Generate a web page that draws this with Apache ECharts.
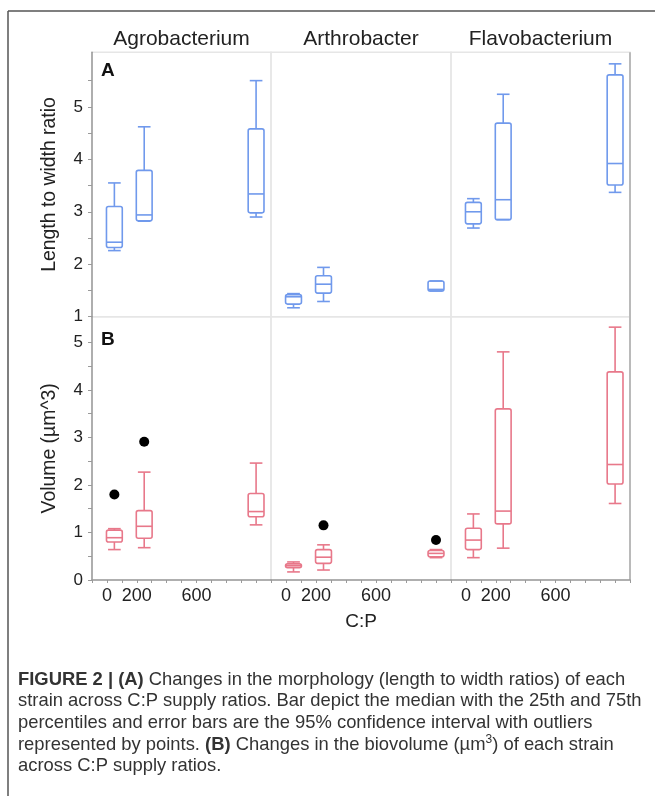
<!DOCTYPE html>
<html><head><meta charset="utf-8">
<script src="https://cdn.jsdelivr.net/npm/echarts@6/dist/echarts.min.js"></script>
<style>html,body{margin:0;padding:0;background:#fff}#c{width:655px;height:796px}</style>
</head><body><div id="c"></div>
<script>
// ---------------- data ----------------
const strains = ['Agrobacterium', 'Arthrobacter', 'Flavobacterium'];
const cpLevels = [50, 250, 1000];
const xTickLabels = [0, 200, 600];
const xTickMarks = [-100, 0, 100, 200, 300, 400, 500, 600, 700, 800, 900, 1000, 1100];
const ratioTickLabels = [1, 2, 3, 4, 5];
const ratioTickMarks = [1, 1.5, 2, 2.5, 3, 3.5, 4, 4.5, 5, 5.5];
const volumeTickLabels = [0, 1, 2, 3, 4, 5];
const volumeTickMarks = [0, 0.5, 1, 1.5, 2, 2.5, 3, 3.5, 4, 4.5, 5];

// [lower whisker, Q1, median, Q3, upper whisker] per C:P level
const ratioAgro   = [[2.26, 2.32, 2.42, 3.10, 3.55], [2.82, 2.83, 2.94, 3.79, 4.62], [2.90, 2.98, 3.34, 4.58, 5.50]];
const ratioArthro = [[1.17, 1.24, 1.38, 1.42, 1.44], [1.29, 1.45, 1.62, 1.78, 1.94], [1.49, 1.49, 1.52, 1.68, 1.68]];
const ratioFlavo  = [[2.69, 2.77, 3.00, 3.18, 3.25], [2.85, 2.85, 3.23, 4.69, 5.24], [3.37, 3.51, 3.92, 5.61, 5.82]];

const volAgro   = [[0.64, 0.80, 0.89, 1.05, 1.08], [0.68, 0.88, 1.13, 1.46, 2.27], [1.16, 1.33, 1.44, 1.82, 2.46]];
const volArthro = [[0.17, 0.26, 0.30, 0.34, 0.38], [0.21, 0.35, 0.48, 0.64, 0.74], [0.47, 0.49, 0.56, 0.62, 0.64]];
const volFlavo  = [[0.47, 0.64, 0.84, 1.09, 1.39], [0.67, 1.18, 1.45, 3.60, 4.80], [1.61, 2.02, 2.43, 4.38, 5.32]];

// outliers [C:P, volume]
const volOutAgro   = [[50, 1.80], [250, 2.91]];
const volOutArthro = [[250, 1.15], [1000, 0.84]];
const volOutFlavo  = [];

// ---------------- layout / style ----------------
const colLeft = [92, 271, 451];
const colWidth = [179, 180, 179];
const rowTop = [52.3, 316.7];
const rowHeight = [264.4, 263.3];
const xRange = [-100, 1100];
const ratioRange = [1, 6.04];
const volRange = [0, 5.54];
const BLUE = '#7099ec';
const RED = '#e8788a';
const BOX_W = 106;      // in C:P units
const CAP_RATIO = 0.8;
const FONT = '"Liberation Sans", Arial, Helvetica, sans-serif';

const ratioSets = [ratioAgro, ratioArthro, ratioFlavo];
const volSets = [volAgro, volArthro, volFlavo];
const outSets = [volOutAgro, volOutArthro, volOutFlavo];

function boxRender(color) {
  return function (params, api) {
    const x = api.value(0);
    const lo = api.coord([x, api.value(1)]);
    const q1 = api.coord([x, api.value(2)]);
    const md = api.coord([x, api.value(3)]);
    const q3 = api.coord([x, api.value(4)]);
    const hi = api.coord([x, api.value(5)]);
    const w = api.size([BOX_W, 0])[0];
    const cw = w * CAP_RATIO;
    const cx = lo[0];
    const st = { stroke: color, lineWidth: 1.6, fill: null };
    return {
      type: 'group',
      children: [
        { type: 'line', shape: { x1: cx, y1: hi[1], x2: cx, y2: q3[1] }, style: st },
        { type: 'line', shape: { x1: cx, y1: q1[1], x2: cx, y2: lo[1] }, style: st },
        { type: 'line', shape: { x1: cx - cw / 2, y1: hi[1], x2: cx + cw / 2, y2: hi[1] }, style: st },
        { type: 'line', shape: { x1: cx - cw / 2, y1: lo[1], x2: cx + cw / 2, y2: lo[1] }, style: st },
        { type: 'rect', shape: { x: cx - w / 2, y: q3[1], width: w, height: q1[1] - q3[1], r: 2 }, style: st },
        { type: 'line', shape: { x1: cx - w / 2, y1: md[1], x2: cx + w / 2, y2: md[1] }, style: st }
      ]
    };
  };
}

const grids = [], xAxes = [], yAxes = [], series = [];
for (let r = 0; r < 2; r++) {
  for (let c = 0; c < 3; c++) {
    const idx = r * 3 + c;
    grids.push({
      left: colLeft[c], top: rowTop[r], width: colWidth[c], height: rowHeight[r],
      show: true, borderColor: '#e6e6e6', borderWidth: 1.5, backgroundColor: 'transparent'
    });
    const bottomRow = r === 1;
    xAxes.push({
      gridIndex: idx, type: 'value', min: xRange[0], max: xRange[1], interval: 100,
      splitLine: { show: false },
      axisLine: { show: bottomRow, onZero: false, lineStyle: { color: '#9a9a9a', width: 1.5 } },
      axisTick: { show: bottomRow, length: 3, customValues: xTickMarks, lineStyle: { color: '#9a9a9a' } },
      axisLabel: { show: bottomRow, customValues: xTickLabels, fontSize: 18, color: '#222', margin: 7, fontFamily: FONT },
      name: (bottomRow && c === 1) ? 'C:P' : '',
      nameLocation: 'middle', nameGap: 32,
      nameTextStyle: { fontSize: 19, color: '#222', fontFamily: FONT }
    });
    const leftCol = c === 0;
    const top = r === 0;
    yAxes.push({
      gridIndex: idx, type: 'value',
      min: top ? ratioRange[0] : volRange[0], max: top ? ratioRange[1] : volRange[1],
      show: leftCol,
      splitLine: { show: false },
      axisLine: { show: true, onZero: false, lineStyle: { color: '#9a9a9a', width: 1.5 } },
      axisTick: { show: true, length: 4, customValues: top ? ratioTickMarks : volumeTickMarks, lineStyle: { color: '#9a9a9a' } },
      axisLabel: { customValues: top ? ratioTickLabels : volumeTickLabels, fontSize: 17, color: '#222', margin: 9, fontFamily: FONT },
      name: top ? 'Length to width ratio' : 'Volume (µm^3)',
      nameLocation: 'middle', nameGap: 33,
      nameTextStyle: { fontSize: 19.4, color: '#222', fontFamily: FONT }
    });
    const set = top ? ratioSets[c] : volSets[c];
    series.push({
      type: 'custom', xAxisIndex: idx, yAxisIndex: idx,
      renderItem: boxRender(top ? BLUE : RED),
      encode: { x: 0, y: [1, 2, 3, 4, 5] },
      data: cpLevels.map((cp, i) => [cp].concat(set[i])),
      silent: true
    });
    if (!top) {
      series.push({
        type: 'scatter', xAxisIndex: idx, yAxisIndex: idx,
        data: outSets[c], symbolSize: 10, itemStyle: { color: '#000', opacity: 1 }, silent: true
      });
    }
  }
}

const graphics = [
  { type: 'line', shape: { x1: 8, y1: 11, x2: 655, y2: 11 }, style: { stroke: '#555', lineWidth: 1.5 } },
  { type: 'line', shape: { x1: 8, y1: 11, x2: 8, y2: 796 }, style: { stroke: '#555', lineWidth: 1.5 } },
  { type: 'line', shape: { x1: 630, y1: rowTop[0], x2: 630, y2: rowTop[1] + rowHeight[1] }, style: { stroke: '#b5b5b5', lineWidth: 1.8 } },
  { type: 'text', x: 101, y: 71, style: { text: 'A', font: 'bold 19px ' + FONT, fill: '#111', textVerticalAlign: 'middle' } },
  { type: 'text', x: 101, y: 340, style: { text: 'B', font: 'bold 19px ' + FONT, fill: '#111', textVerticalAlign: 'middle' } },
  {
    type: 'text', left: 18, top: 669,
    style: {
      text: '{b|FIGURE 2 | (A)} Changes in the morphology (length to width ratios) of each\n' +
            'strain across C:P supply ratios. Bar depict the median with the 25th and 75th\n' +
            'percentiles and error bars are the 95% confidence interval with outliers\n' +
            'represented by points. {b|(B)} Changes in the biovolume (µm{s|3}) of each strain\n' +
            'across C:P supply ratios.',
      font: '18.4px ' + FONT, fill: '#333', lineHeight: 21.6,
      rich: {
        b: { fontWeight: 'bold', fontSize: 18.4, fontFamily: FONT, fill: '#333', lineHeight: 21.6 },
        s: { fontSize: 12, fontFamily: FONT, fill: '#333', verticalAlign: 'top', lineHeight: 16 }
      }
    }
  }
];
strains.forEach((s, c) => {
  graphics.push({
    type: 'text', x: colLeft[c] + colWidth[c] / 2, y: 39,
    style: { text: s, font: '21px ' + FONT, fill: '#222', textAlign: 'center', textVerticalAlign: 'middle' }
  });
});

const chart = echarts.init(document.getElementById('c'), null, { renderer: 'canvas' });
chart.setOption({
  animation: false,
  backgroundColor: '#fff',
  grid: grids, xAxis: xAxes, yAxis: yAxes, series: series,
  graphic: graphics
});
</script></body></html>
